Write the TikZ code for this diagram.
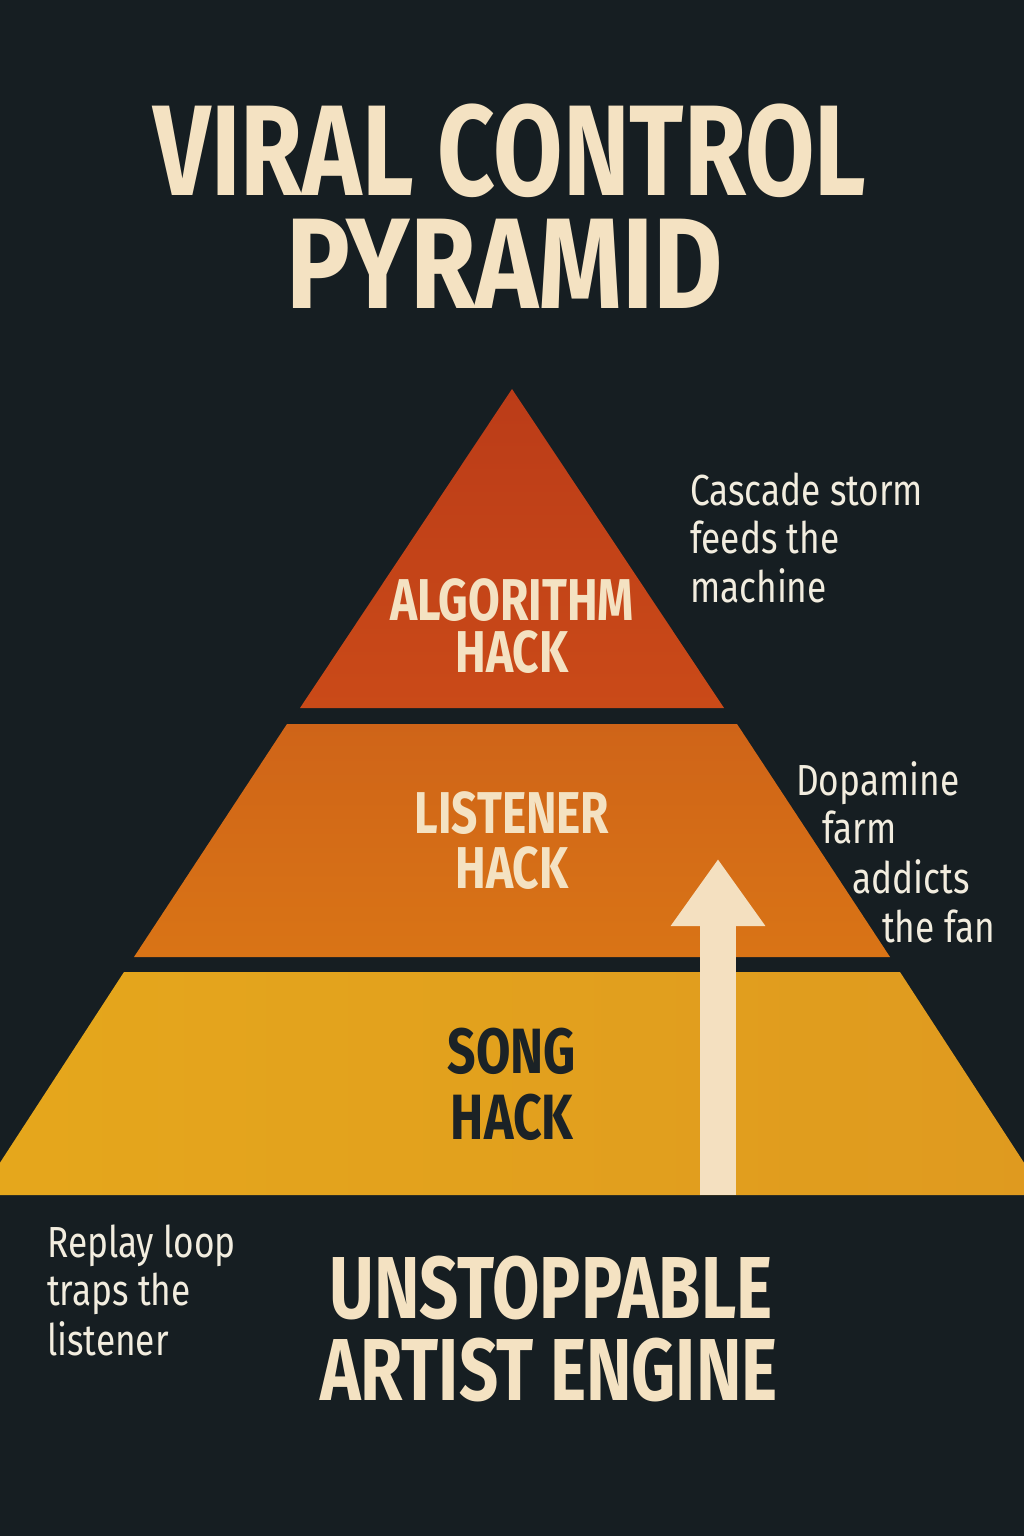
\documentclass[tikz,border=0pt]{standalone}
\usepackage{fontspec}
\usetikzlibrary{arrows.meta}
\setmainfont{Fira Sans}
\newfontfamily\boldcond[FakeStretch=0.78]{Fira Sans}
\newfontfamily\regcond[FakeStretch=0.81]{Fira Sans}
\definecolor{bg}{HTML}{161E22}
\definecolor{cream}{HTML}{F4E2C2}
\definecolor{notecol}{HTML}{F2EDDF}
\definecolor{darktext}{HTML}{1B2226}
\definecolor{topA}{HTML}{BB3C18}
\definecolor{topB}{HTML}{CA4A18}
\definecolor{midA}{HTML}{CF6418}
\definecolor{midB}{HTML}{D97416}
\definecolor{botA}{HTML}{E5A71C}
\definecolor{botB}{HTML}{DF9A1F}
\definecolor{arrowcol}{HTML}{F4E0C0}
\tikzset{
  titletext/.style={font=\boldcond\bfseries\fontsize{129}{129}\selectfont, text=cream, inner sep=0pt, anchor=base},
  tiertext/.style={font=\boldcond\bfseries\fontsize{59}{59}\selectfont, text=cream, inner sep=0pt, anchor=base},
  songtext/.style={tiertext, font=\boldcond\bfseries\fontsize{64}{64}\selectfont, text=darktext},
  enginetext/.style={font=\boldcond\bfseries\fontsize{88}{88}\selectfont, text=cream, inner sep=0pt, anchor=base},
  notetext/.style={font=\regcond\fontsize{43.5}{43.5}\selectfont, text=notecol, inner sep=0pt, anchor=base west},
}
\begin{document}
\begin{tikzpicture}[x=1pt,y=-1pt]
\useasboundingbox (0,0) rectangle (1024,1536);
\fill[bg] (0,0) rectangle (1024,1536);
\begin{scope}
\clip (0,0) rectangle (1024,1536);
% tiers
\shade[top color=topA, bottom color=topB] (512,389) -- (724,708) -- (300,708) -- cycle;
\shade[top color=midA, bottom color=midB] (287,724) -- (737,724) -- (890,957) -- (134,957) -- cycle;
\shade[left color=botA, right color=botB] (124,972) -- (900,972) -- (1045,1195) -- (-21,1195) -- cycle;
\end{scope}
% arrow
\coordinate (arrowbase) at (718,1195);
\coordinate (arrowtip) at (718,859);
\draw[arrowcol, line width=36pt, -{Triangle[width=90pt,length=67pt]}] (arrowbase) -- (arrowtip);
% title
\node[titletext] (title1) at (510,195) {VIRAL CONTROL};
\node[titletext] (title2) at (505,308) {\scalebox{1.06}[1]{PYRAMID}};
% tier labels
\node[tiertext] (alg1) at (512,620) {ALGORITHM};
\node[tiertext] (alg2) at (512,672) {HACK};
\node[tiertext] (lis1) at (512,833) {LISTENER};
\node[tiertext] (lis2) at (512,888) {HACK};
\node[songtext] (song1) at (512,1073) {SONG};
\node[songtext] (song2) at (512,1139) {HACK};
% engine
\node[enginetext] (eng1) at (551,1318) {UNSTOPPABLE};
\node[enginetext] (eng2) at (549,1400) {ARTIST ENGINE};
% notes
\node[notetext] (n1a) at (690,505) {Cascade storm};
\node[notetext] (n1b) at (690,553) {feeds the};
\node[notetext] (n1c) at (690,602) {machine};
\node[notetext] (n2a) at (796,795) {Dopamine};
\node[notetext] (n2b) at (822,843) {farm};
\node[notetext] (n2c) at (852,893) {addicts};
\node[notetext] (n2d) at (882,942) {the fan};
\node[notetext] (n3a) at (47,1257) {Replay loop};
\node[notetext] (n3b) at (47,1305) {traps the};
\node[notetext] (n3c) at (47,1355) {listener};
\end{tikzpicture}
\end{document}
